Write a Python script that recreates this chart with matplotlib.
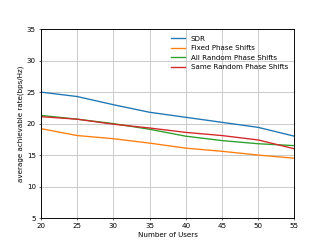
import matplotlib
matplotlib.use("Agg")
import matplotlib.pyplot as plt

users = [20, 25, 30, 35, 40, 45, 50, 55]
sdr = [25.0, 24.3, 23.0, 21.8, 21.0, 20.2, 19.4, 18.0]
fixed = [19.2, 18.1, 17.6, 16.9, 16.1, 15.6, 15.0, 14.5]
all_random = [21.3, 20.7, 20.0, 19.1, 18.0, 17.3, 16.8, 16.5]
same_random = [21.1, 20.7, 19.9, 19.3, 18.6, 18.1, 17.4, 16.0]

fig, ax = plt.subplots(figsize=(6.4, 4.8), dpi=51.1)
lw = 1.9
ax.plot(users, sdr, label="SDR", lw=lw)
ax.plot(users, fixed, label="Fixed Phase Shifts", lw=lw)
ax.plot(users, all_random, label="All Random Phase Shifts", lw=lw)
ax.plot(users, same_random, label="Same Random Phase Shifts", lw=lw)
ax.set_xlim(20, 55)
ax.set_ylim(5, 35)
ax.set_xlabel("Number of Users")
ax.set_ylabel("average achievable rate(bps/Hz)")
ax.grid(True, lw=1.3, color="#c8c8c8")
for s in ax.spines.values():
    s.set_linewidth(1.3)
ax.legend(frameon=False, loc="upper right")
fig.savefig("out.png", dpi=51.1)
